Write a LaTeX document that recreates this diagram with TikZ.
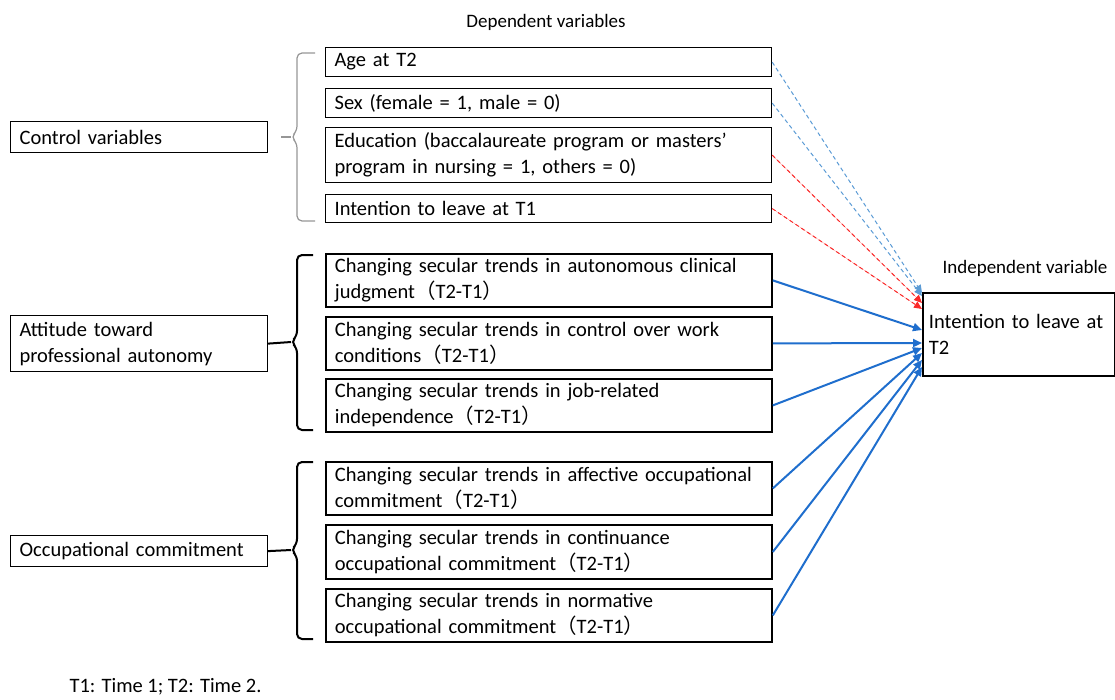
\documentclass[tikz,border=0pt]{standalone}
\usepackage{fontspec}
\setmainfont{Carlito}
\newfontfamily\cjk{Noto Sans CJK SC}
\usetikzlibrary{arrows.meta}

\definecolor{lightblue}{RGB}{91,155,213}
\definecolor{lightred}{RGB}{250,40,40}
\definecolor{linkblue}{RGB}{31,110,205}
\definecolor{bracegray}{RGB}{150,150,150}
\newcommand{\tdiff}{{\cjk （}T2-T1{\cjk ）}}

\begin{document}
\begin{tikzpicture}[x=1pt,y=-1pt]
    \tikzstyle{txt}=[font=\fontsize{20.5}{26}\selectfont]
    \tikzstyle{grp}=[txt, draw, line width=1.2pt, anchor=north west, minimum width=257, text width=239, inner xsep=9, align=left]
    \tikzstyle{ctl}=[txt, draw, line width=1.2pt, anchor=north west, minimum width=446, text width=428, inner xsep=9, inner ysep=0, align=left]
    \tikzstyle{var}=[ctl, line width=1.8pt]
    \tikzstyle{dep}=[draw=lightblue, line width=1pt, dash pattern=on 4pt off 3pt, -{Triangle[length=8,width=7]}]
    \tikzstyle{depr}=[dep, draw=lightred, fill=red]
    \tikzstyle{lnk}=[draw=linkblue, line width=2pt, -{Triangle[length=9,width=8]}]
    \useasboundingbox (0,0) rectangle (1115,699);

    % headings
    \node[font=\fontsize{19}{23}\selectfont] (hdep) at (546,22) {Dependent variables};
    \node[font=\fontsize{19}{23}\selectfont] (hind) at (1025,268) {Independent variable};

    % groups on the left
    \node[grp, minimum height=31] (gctl) at (10,121) {Control variables};
    \node[grp, minimum height=56] (gaut) at (10,315) {Attitude toward\\professional autonomy};
    \node[grp, minimum height=31] (gocc) at (10,535) {Occupational commitment};

    % control variables
    \node[ctl, minimum height=29] (age) at (325,47) {Age at T2};
    \node[ctl, minimum height=29] (sex) at (325,88) {Sex (female = 1, male = 0)};
    \node[ctl, minimum height=55] (edu) at (325,127) {Education (baccalaureate program or masters’\\program in nursing = 1, others = 0)};
    \node[ctl, minimum height=28] (int1) at (325,194) {Intention to leave at T1};

    % professional autonomy
    \node[var, minimum height=53] (clin) at (325,253) {Changing secular trends in autonomous clinical\\judgment\tdiff};
    \node[var, minimum height=53] (work) at (325,316) {Changing secular trends in control over work\\conditions\tdiff};
    \node[var, minimum height=53] (job) at (325,378) {Changing secular trends in job-related\\independence\tdiff};

    % occupational commitment
    \node[var, minimum height=53] (aff) at (325,461) {Changing secular trends in affective occupational\\commitment\tdiff};
    \node[var, minimum height=54] (cont) at (325,524) {Changing secular trends in continuance\\occupational commitment\tdiff};
    \node[var, minimum height=53] (norm) at (325,588) {Changing secular trends in normative\\occupational commitment\tdiff};

    % outcome
    \node[var, minimum width=192, text width=180, inner xsep=6, minimum height=83] (out) at (922,292) {Intention to leave at\\T2};

    % braces
    \draw[bracegray, line width=1.2pt, rounded corners=5] (315,53) -- (297,53) -- (297,131) -- (291,137) -- (297,143) -- (297,221) -- (315,221);
    \draw[bracegray, line width=1.2pt] (291,137) -- (281,137);
    \draw[line width=2pt, rounded corners=5] (313,255) -- (297,255) -- (297,336) -- (291,342) -- (297,348) -- (297,430) -- (313,430);
    \draw[line width=2pt] (gaut.east) -- (291,342);
    \draw[line width=2pt, rounded corners=5] (313,462) -- (297,462) -- (297,544) -- (291,550) -- (297,556) -- (297,639) -- (313,639);
    \draw[line width=2pt] (gocc.east) -- (291,550);

    % arrow ends on the outcome box
    \coordinate (a1) at ([yshift=-1pt]out.north west);
    \coordinate (a2) at ([yshift=-4pt]out.north west);
    \coordinate (a3) at ([yshift=-11pt]out.north west);
    \coordinate (a4) at ([yshift=-17pt]out.north west);
    \coordinate (b1) at ([yshift=-38pt]out.north west);
    \coordinate (b2) at ([yshift=-51pt]out.north west);
    \coordinate (b3) at ([yshift=-56pt]out.north west);
    \coordinate (b4) at ([yshift=-61pt]out.north west);
    \coordinate (b5) at ([yshift=-68pt]out.north west);
    \coordinate (b6) at ([yshift=-75pt]out.north west);

    \draw[dep] (age.east) -- (a1);
    \draw[dep] (sex.east) -- (a2);
    \draw[depr] (edu.east) -- (a3);
    \draw[depr] (int1.east) -- (a4);
    \draw[lnk] (clin.east) -- (b1);
    \draw[lnk] (work.east) -- (b2);
    \draw[lnk] (job.east) -- (b3);
    \draw[lnk] (aff.east) -- (b4);
    \draw[lnk] (cont.east) -- (b5);
    \draw[lnk] (norm.east) -- (b6);

    \node[txt, anchor=west] (note) at (66,687) {T1: Time 1; T2: Time 2.};
\end{tikzpicture}
\end{document}
